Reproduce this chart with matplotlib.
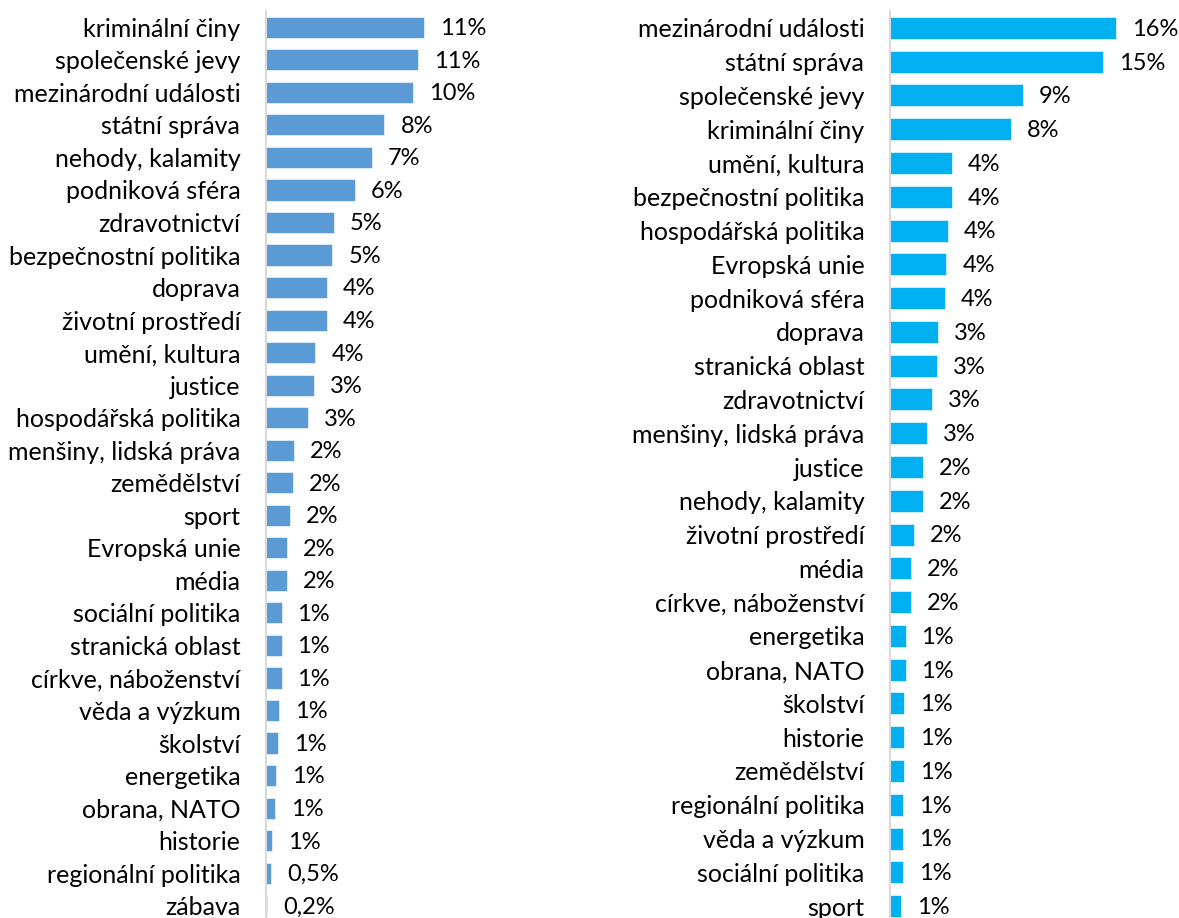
import matplotlib
matplotlib.use('Agg')
import matplotlib.pyplot as plt

# left panel: topic shares, sorted as in the source
left_topics = [
    "kriminální činy", "společenské jevy", "mezinárodní události", "státní správa",
    "nehody, kalamity", "podniková sféra", "zdravotnictví", "bezpečnostní politika",
    "doprava", "životní prostředí", "umění, kultura", "justice",
    "hospodářská politika", "menšiny, lidská práva", "zemědělství", "sport",
    "Evropská unie", "média", "sociální politika", "stranická oblast",
    "církve, náboženství", "věda a výzkum", "školství", "energetika",
    "obrana, NATO", "historie", "regionální politika", "zábava",
]
left_values = [
    11.2, 10.8, 10.4, 8.4, 7.5, 6.3, 4.8, 4.7,
    4.3, 4.3, 3.5, 3.4, 3.0, 2.0, 1.9, 1.7,
    1.5, 1.5, 1.1, 1.1, 1.1, 0.95, 0.88, 0.72,
    0.62, 0.46, 0.39, 0.08,
]
left_labels = [
    "11%", "11%", "10%", "8%", "7%", "6%", "5%", "5%",
    "4%", "4%", "4%", "3%", "3%", "2%", "2%", "2%",
    "2%", "2%", "1%", "1%", "1%", "1%", "1%", "1%",
    "1%", "1%", "0,5%", "0,2%",
]

# right panel
right_topics = [
    "mezinárodní události", "státní správa", "společenské jevy", "kriminální činy",
    "umění, kultura", "bezpečnostní politika", "hospodářská politika", "Evropská unie",
    "podniková sféra", "doprava", "stranická oblast", "zdravotnictví",
    "menšiny, lidská práva", "justice", "nehody, kalamity", "životní prostředí",
    "média", "církve, náboženství", "energetika", "obrana, NATO",
    "školství", "historie", "zemědělství", "regionální politika",
    "věda a výzkum", "sociální politika", "sport",
]
right_values = [
    16.0, 15.1, 9.4, 8.55, 4.4, 4.4, 4.1, 4.0,
    3.9, 3.4, 3.3, 3.0, 2.6, 2.35, 2.35, 1.7,
    1.5, 1.5, 1.1, 1.1, 1.0, 1.0, 1.0, 0.93,
    0.93, 0.89, 0.76,
]
right_labels = [
    "16%", "15%", "9%", "8%", "4%", "4%", "4%", "4%",
    "4%", "3%", "3%", "3%", "3%", "2%", "2%", "2%",
    "2%", "2%", "1%", "1%", "1%", "1%", "1%", "1%",
    "1%", "1%", "1%",
]

W, H = 1179, 918
DPI = 100
PX_PER_PCT = 14.1

plt.rcParams['font.family'] = ['Lato', 'DejaVu Sans']
FONT_SIZE = 18
VALUE_SIZE = 17


def draw_panel(fig, x0, x1, top, bottom, topics, values, labels, color):
    ax = fig.add_axes([x0 / W, (H - bottom) / H, (x1 - x0) / W, (bottom - top) / H])
    n = len(topics)
    ypos = list(range(n))
    ax.barh(ypos, values, height=0.65, color=color, edgecolor='#ffffff',
            linewidth=0.4)
    ax.set_xlim(0, (x1 - x0) / PX_PER_PCT)
    ax.set_ylim(n - 0.5, -0.5)
    ax.set_yticks(ypos)
    ax.set_yticklabels(topics, fontsize=FONT_SIZE, color='black')
    ax.tick_params(axis='y', length=0, pad=18.5)
    ax.set_xticks([])
    for side in ('top', 'right', 'bottom'):
        ax.spines[side].set_visible(False)
    ax.spines['left'].set_color('#d9d9d9')
    ax.spines['left'].set_linewidth(1.5)
    for y, v, lab in zip(ypos, values, labels):
        ax.annotate(lab, xy=(v, y), xytext=(11.5, -1), textcoords='offset points',
                    ha='left', va='center', fontsize=VALUE_SIZE, color='black')
    return ax


fig = plt.figure(figsize=(W / DPI, H / DPI), dpi=DPI)
draw_panel(fig, 266, 570, 11, 922, left_topics, left_values, left_labels, '#5b9bd5')
draw_panel(fig, 890, 1179, 11, 923, right_topics, right_values, right_labels, '#00b0f0')

fig.savefig('out.png', dpi=DPI)
